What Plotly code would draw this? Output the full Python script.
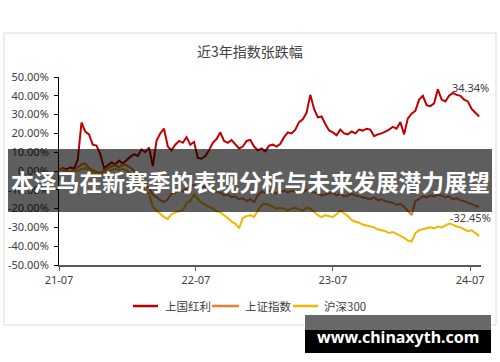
import pandas as pd
import plotly.graph_objects as go

# ---- data (percent change since 2021-07, sampled every 10 days) ----
dates = pd.date_range("2021-07-01", periods=113, freq="10D")

hongli = [0.5, 1.5, 0.8, 2.0, 1.2, 6, 25.8, 21, 19.5, 14, 13.5, 9, 1.5, 3, 4.5, 3.5,
          5.5, 4, 6, 7.5, 9, 8, 11.5, 10, 12.5, 2.5, 16, 20, 22.5, 13, 11, 14,
          16, 15, 18, 14, 15.5, 7, 6.5, 8, 11, 15, 17, 20.5, 16, 15, 16.5, 14.5,
          12, 13, 16, 16.5, 13, 11, 12, 10.5, 13.5, 14, 13, 14.5, 18, 20.5, 20, 22,
          26, 27.5, 31, 40.5, 33, 28.5, 29, 25, 21.5, 20.5, 19, 22, 20, 19.5, 21, 20,
          22, 21.5, 22.5, 22, 18.5, 19.5, 20, 21, 22, 23.5, 22.5, 26, 19.5, 28, 30.5, 32,
          38, 40, 35, 34.5, 36, 43.5, 38, 37, 40, 41.5, 40.5, 40, 38, 37, 33, 31, 29]

shangzheng = [0.5, 1, 0, -0.5, 0.5, 2, 3.5, 4, 1.5, 0.5, -0.5, -1, 0, 1.5, 2.5, 3,
              2, 3.5, 3, 2, 0, -3, -5, -7, -9, -12.5, -14, -15.5, -16.5, -15, -12, -11.5,
              -10, -11, -9, -8, -7.5, -8.5, -9, -8, -10, -10.5, -11, -11.5, -13, -12.5, -14, -13.5,
              -15, -14.5, -16, -15, -16.5, -13, -11, -11.5, -10.5, -11, -12, -11, -10.5, -11.5, -10.5, -11,
              -12, -11.5, -10, -10.5, -11.5, -12, -13, -12.5, -12, -11.5, -13, -12, -13.5, -13, -12, -13,
              -13.5, -14, -14.5, -15, -14, -15.5, -15, -16, -16.5, -17, -18, -17.5, -19, -21, -23.5, -16,
              -15, -13.5, -14, -13, -13.5, -12.5, -13, -14, -13.5, -15, -14.5, -15.5, -16, -17, -17.5, -18.5, -19]

hs300 = [0, 0.5, -0.5, -1, -0.5, 0, 1, 1.5, 0, -1, -2, -1.5, -1, -0.5, 0.5, 1,
         0.5, 1, 0.5, -1.5, -5, -7, -9, -10.5, -12, -19, -21, -23, -24.5, -25.5, -23, -22,
         -21.5, -21, -17, -16, -12.5, -15, -17, -18, -19, -20, -21.5, -22, -23.5, -25, -27, -28,
         -30.5, -25, -24, -23.5, -24.5, -21, -18, -17.5, -18, -19, -20, -19.5, -20, -21, -20, -19.5,
         -20.5, -21, -19.5, -20, -22, -23.5, -24.5, -23.5, -24, -24.5, -23, -21, -22.5, -24, -26, -27,
         -27.5, -28.5, -29, -29.5, -30, -31, -31.5, -32, -33, -32.5, -33.5, -34.5, -35.5, -37, -37.5, -33,
         -31.5, -31, -30.5, -30, -30.5, -29.5, -30, -29, -28, -28.5, -29.5, -30, -31, -32, -31.5, -33, -34.5]

series_names = ["上国红利", "上证指数", "沪深300"]
series_colors = ["#C00000", "#ED7D31", "#F2B600"]
end_labels = ["34.34%", "-32.45%"]

y_ticks = [50, 40, 30, 20, 10, 0, -10, -20, -30, -40, -50]
y_ticktext = [f"{v:.2f}%" for v in y_ticks]
x_ticks = ["2021-07-01", "2022-07-01", "2023-07-01", "2024-07-01"]

title_text = "近3年指数张跌幅"
banner_text = "本泽马在新赛季的表现分析与未来发展潜力展望"
watermark_text = "www.chinaxyth.com"

FONT = "Noto Sans, Noto Sans CJK SC, sans-serif"
CJK = "Noto Sans CJK SC, sans-serif"

fig = go.Figure()
for name, vals, col in zip(series_names, [hongli, shangzheng, hs300], series_colors):
    fig.add_trace(go.Scatter(x=dates, y=vals, mode="lines", name=name,
                             line=dict(color=col, width=2), showlegend=False))

# plot area geometry in pixels
L, R, T, B = 59, 19, 77, 97
W, H = 500, 362
pw, ph = W - L - R, H - T - B

def px(x):
    return (x - L) / pw

def py(y):
    return (H - B - y) / ph

shapes = [
    # card border
    dict(type="rect", xref="paper", yref="paper", x0=px(4), x1=px(496), y0=py(325), y1=py(33),
         line=dict(color="#DADADA", width=1), fillcolor="rgba(0,0,0,0)", layer="below"),
]

annotations = [
    dict(text=title_text, xref="paper", yref="paper", x=px(250), y=py(51), showarrow=False,
         font=dict(family=CJK, size=14, color="#404040"), xanchor="center", yanchor="middle"),
    dict(text=end_labels[0], xref="paper", yref="paper", x=px(470), y=py(87), showarrow=False,
         font=dict(family=FONT, size=11, color="#404040"), xanchor="center", yanchor="middle"),
    dict(text=end_labels[1], xref="paper", yref="paper", x=px(470), y=py(217), showarrow=False,
         font=dict(family=FONT, size=11, color="#404040"), xanchor="center", yanchor="middle"),
]

# legend (drawn as line samples + labels)
legend_line_x = [(133, 158), (212, 239), (293, 318)]
legend_text_x = [163, 243, 322]
for (lx0, lx1), tx, name, col in zip(legend_line_x, legend_text_x, series_names, series_colors):
    shapes.append(dict(type="line", xref="paper", yref="paper", x0=px(lx0), x1=px(lx1),
                       y0=py(306), y1=py(306), line=dict(color=col, width=2.5)))
    annotations.append(dict(text=name, xref="paper", yref="paper", x=px(tx), y=py(306),
                            showarrow=False, xanchor="left", yanchor="middle",
                            font=dict(family=CJK, size=11.5, color="#404040")))

# overlays
shapes += [
    dict(type="rect", xref="paper", yref="paper", x0=px(8), x1=px(492), y0=py(212), y1=py(149),
         line=dict(width=0), fillcolor="rgba(0,0,0,0.63)", layer="above"),
    dict(type="rect", xref="paper", yref="paper", x0=px(305), x1=px(491), y0=py(330), y1=py(315),
         line=dict(width=0), fillcolor="#686868", layer="above"),
    dict(type="rect", xref="paper", yref="paper", x0=px(305), x1=px(491), y0=py(353), y1=py(330),
         line=dict(width=0), fillcolor="#000000", layer="above"),
]
annotations += [
    dict(text="<b>" + banner_text + "</b>", xref="paper", yref="paper", x=px(250), y=py(181),
         showarrow=False, font=dict(family=CJK, size=22.8, color="#FFFFFF"),
         xanchor="center", yanchor="middle"),
    dict(text="<b>" + watermark_text + "</b>", xref="paper", yref="paper", x=px(398), y=py(337),
         showarrow=False, font=dict(family="Noto Sans, sans-serif", size=16, color="#FFFFFF"),
         xanchor="center", yanchor="middle"),
]

fig.update_layout(
    width=W, height=H,
    margin=dict(l=L, r=R, t=T, b=B, autoexpand=False),
    paper_bgcolor="white", plot_bgcolor="white",
    showlegend=False,
    shapes=shapes, annotations=annotations,
    xaxis=dict(type="date", range=["2021-07-01", "2024-07-30"], tickvals=x_ticks,
               tickformat="%y-%m", showgrid=False, zeroline=False, showline=True,
               linecolor="#595959", linewidth=1.5, ticks="outside", ticklen=4, tickcolor="#595959",
               tickfont=dict(family=FONT, size=11, color="#404040")),
    yaxis=dict(range=[-50, 50], tickvals=y_ticks, ticktext=y_ticktext, showgrid=False,
               zeroline=False, showline=True, linecolor="#000000", linewidth=1,
               ticks="outside", ticklen=4, tickcolor="#000000", ticklabelstandoff=3,
               tickfont=dict(family=FONT, size=11, color="#404040")),
)

fig.write_html("out.html", config={"displayModeBar": False},
               post_script="document.body.style.margin='0';document.body.style.overflow='hidden';")
